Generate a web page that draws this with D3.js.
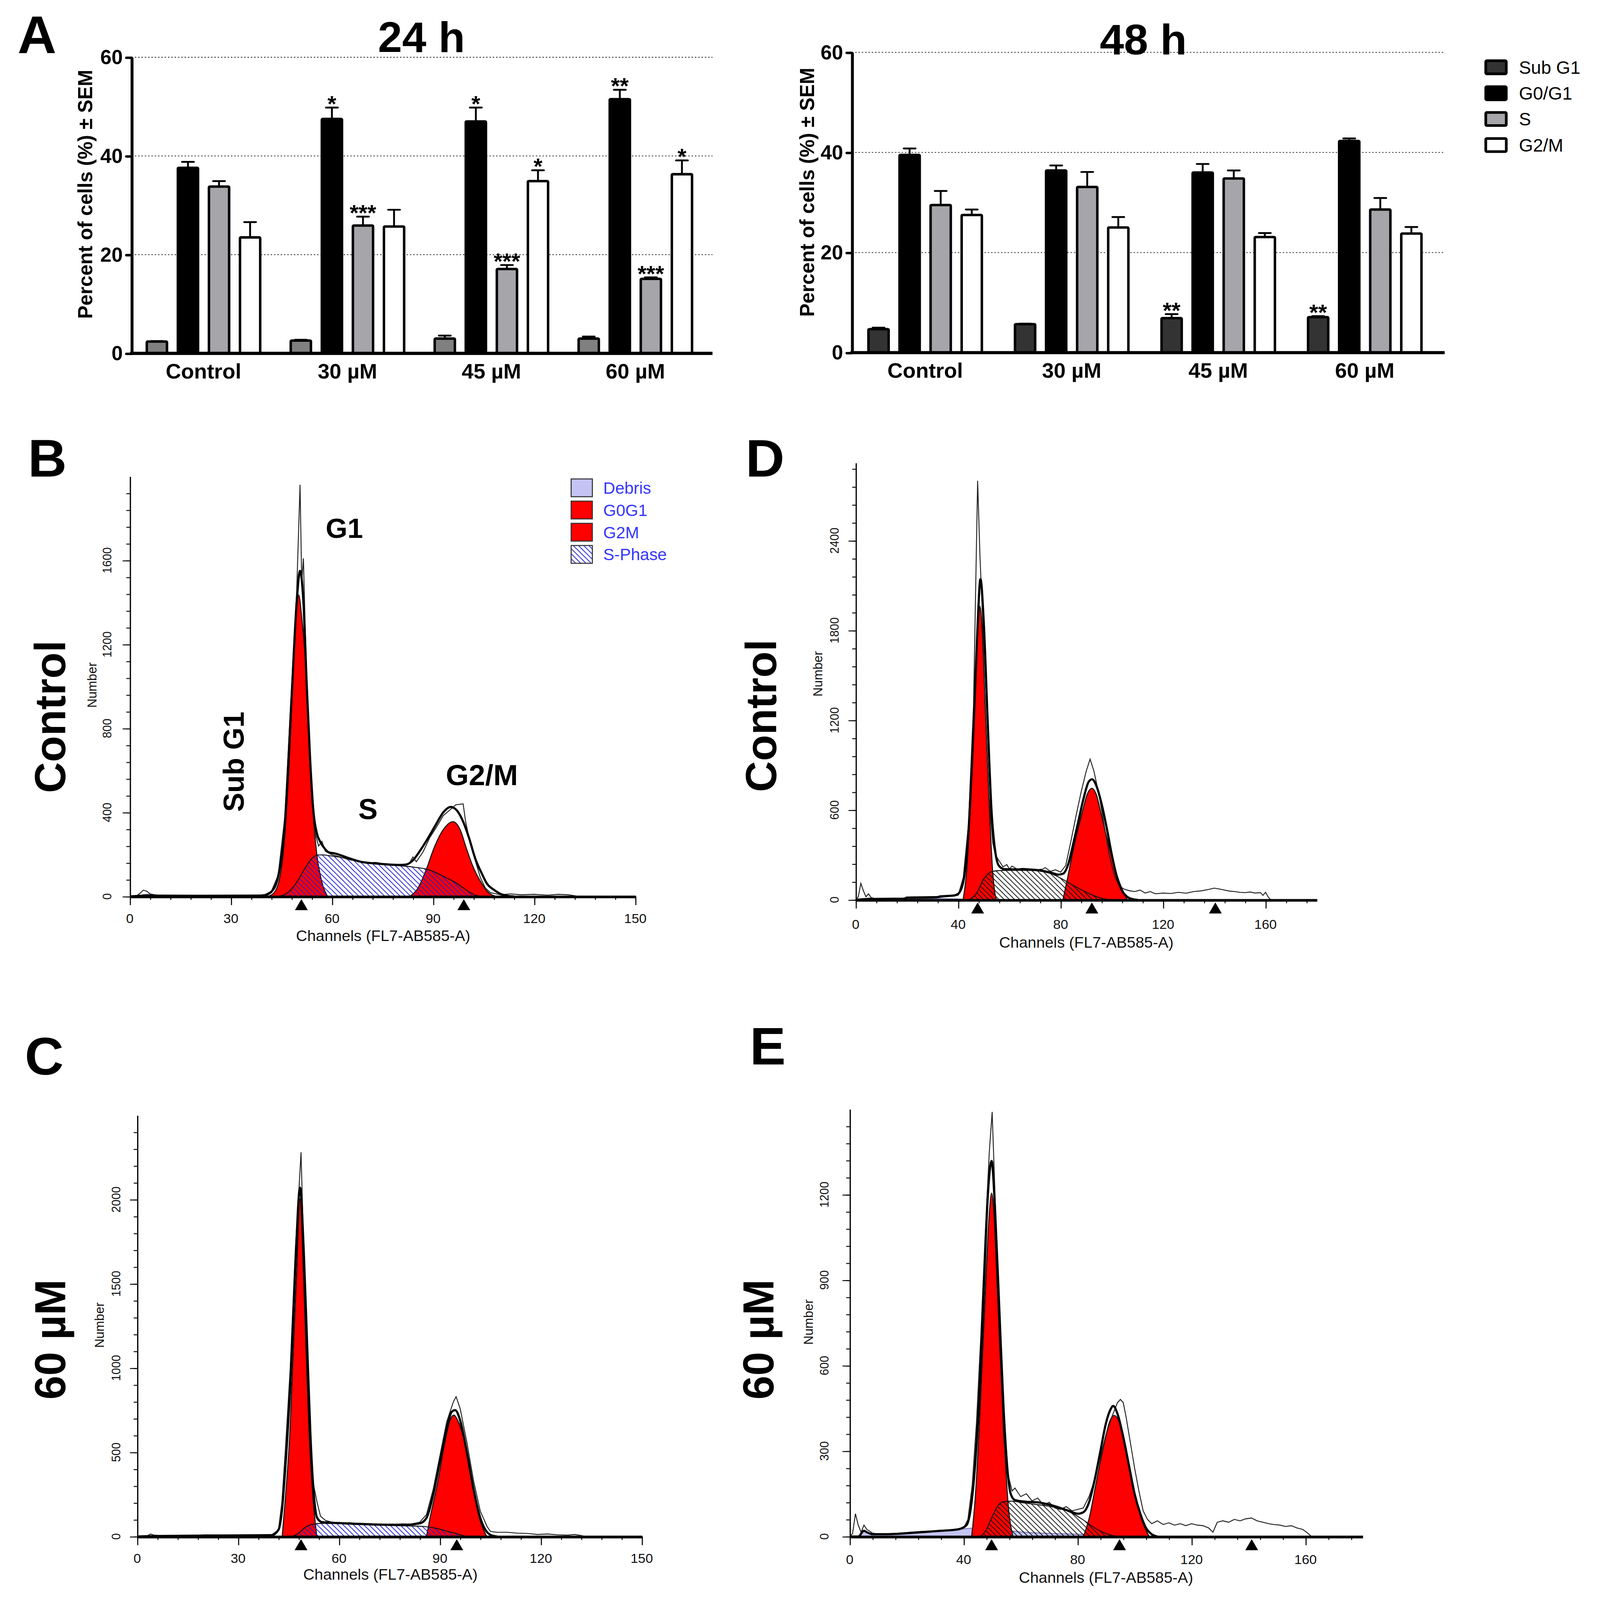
<!DOCTYPE html>
<html><head><meta charset="utf-8">
<script src="https://cdn.jsdelivr.net/npm/d3@7"></script>
<style>
html,body{margin:0;padding:0;width:100%;height:100%;overflow:hidden;background:#fff}
svg{display:block;position:absolute;left:0;top:0;width:100vw;height:100vh}
text{font-family:"Liberation Sans",Arial,Helvetica,sans-serif}
</style>
</head><body>
<svg id="fig" viewBox="0 0 1545 1564.8" preserveAspectRatio="none"></svg>
<script>
// ---------- Panel A data ----------
const groups = ["Control", "30 µM", "45 µM", "60 µM"];
const phases = ["Sub G1", "G0/G1", "S", "G2/M"];

const sub24 = [2.4, 2.6, 3.0, 3.0];
const sub24Err = [0.1, 0.15, 0.6, 0.4];
const g1_24 = [37.6, 47.5, 47.0, 51.5];
const g1_24Err = [1.2, 2.3, 2.8, 1.9];
const s24 = [33.8, 25.9, 17.1, 15.1];
const s24Err = [1.1, 1.8, 0.8, 0.3];
const g2_24 = [23.5, 25.7, 34.9, 36.3];
const g2_24Err = [3.1, 3.4, 2.2, 2.8];
const sub24Stars = ["", "", "", ""];
const g1_24Stars = ["", "*", "*", "**"];
const s24Stars = ["", "***", "***", "***"];
const g2_24Stars = ["", "", "*", "*"];

const sub48 = [4.7, 5.7, 6.9, 7.1];
const sub48Err = [0.3, 0.1, 0.8, 0.2];
const g1_48 = [39.5, 36.4, 36.0, 42.3];
const g1_48Err = [1.3, 1.0, 1.7, 0.5];
const s48 = [29.5, 33.1, 34.8, 28.6];
const s48Err = [2.8, 3.0, 1.6, 2.3];
const g2_48 = [27.5, 25.0, 23.1, 23.8];
const g2_48Err = [1.1, 2.1, 0.8, 1.3];
const sub48Stars = ["", "", "**", "**"];
const g1_48Stars = ["", "", "", ""];
const s48Stars = ["", "", "", ""];
const g2_48Stars = ["", "", "", ""];

const barYTicks = [0, 20, 40, 60];

// ---------- Histogram data: [channel, count] ----------
// B: Control 24 h
const bRaw = [[0,0],[2,2],[3,15],[4,30],[5,25],[6,12],[8,5],[10,4],[15,3],[20,3],[25,4],[30,3],[35,5],[38,4],[40,8],[42,25],[44,100],[46,380],[48,1000],[49.5,1450],[50.5,1960],[51,1500],[51.5,1610],[52,1300],[53,800],[54,450],[55,300],[56,240],[57,262],[58,215],[60,198],[62,190],[65,175],[68,168],[70,160],[73,162],[76,154],[79,150],[81,146],[83,160],[84,188],[85,165],[87,212],[89,280],[91,330],[93,385],[95,412],[96.7,436],[98.9,441],[99.6,360],[101,250],[102.6,165],[104,90],[105.5,40],[107,18],[110,8],[113,12],[116,8],[120,10],[124,6],[127,10],[130,8],[132,3],[133,0]];
const bFit = [[0,0],[5,4],[20,3],[38,4],[40,6],[42,22],[44,95],[46,350],[48,950],[49.5,1400],[50.5,1550],[51.5,1400],[52.5,1000],[53.5,650],[54.5,400],[55.5,300],[56.5,260],[57.7,230],[59,210],[61,204],[65,182],[68.5,165],[72,158],[76,153],[80,150],[82,152],[84,172],[86,215],[88,265],[90.7,339],[93,400],[95.2,426],[97,410],[98.8,360],[100.6,281],[102.5,180],[104.5,107],[106,60],[108,32],[110,12],[112,3],[114,0]];
const bG1 = [[41,0],[42.9,20],[45.1,150],[47.3,640],[48.6,1120],[49.4,1350],[50.1,1435],[51,1330],[52.1,1120],[53.6,640],[54.6,350],[55.5,197],[56.8,80],[58.7,0]];
const bG2 = [[83,0],[85.5,40],[88,130],[90.3,232],[93,318],[95.9,356],[98,318],[99.8,232],[101.6,151],[104.1,70],[106,25],[108.7,0]];
const bS = [[44,0],[46,10],[48,35],[50,80],[52,135],[54,180],[55.5,197],[57,198],[60,192],[64,182],[68,168],[72,158],[76,150],[80,146],[84,140],[88.5,128],[91,112],[94,88],[96,72],[99,40],[101,18],[103,4],[105,0]];
const bDebris = [[3,0],[4,9],[6,11],[9,5],[14,2],[25,1],[40,0]];
const bXTicks = [0, 30, 60, 90, 120, 150];
const bYTicks = [0, 400, 800, 1200, 1600];
const bMarkers = [50.9, 99.1];

// C: 60 µM 24 h
const cRaw = [[0,0],[3,5],[4,15],[5,8],[8,3],[15,2],[20,10],[30,8],[40,10],[42,40],[43,200],[44,500],[45.5,1000],[47,1700],[48.2,2100],[48.7,2280],[49.5,1700],[50.5,1100],[51.5,550],[52.5,300],[53.5,200],[54.5,120],[56,95],[58,85],[60,80],[63,82],[66,78],[70,75],[73,72],[76,70],[79,75],[81,72],[84,85],[86,130],[88,280],[90,480],[92,680],[94,800],[94.8,830],[96,760],[98,560],[100,330],[102,150],[104,60],[105,30],[107,25],[110,25],[113,20],[116,18],[119,12],[122,15],[125,10],[128,8],[130,12],[132,6],[133,0]];
const cFit = [[0,0],[5,3],[20,5],[40,8],[42,40],[43,150],[44,400],[45.5,900],[47,1600],[48.4,2070],[49.5,1700],[50.5,1150],[51.5,600],[52.5,250],[53.5,110],[55,85],[60,80],[65,75],[70,72],[75,70],[80,70],[84,78],[86,110],[88,250],[90,450],[92,640],[93.5,740],[94.5,750],[96,690],[98,500],[100,280],[102,110],[103.5,40],[105,10],[107,0]];
const cG1 = [[43.1,0],[44,217],[45.5,664],[46.4,1111],[47.4,1558],[48.4,2005],[49.4,1558],[50.2,1111],[51,664],[52.3,217],[53.4,0]];
const cG2 = [[86,0],[87,105],[89.4,329],[91.4,552],[93,690],[94.1,720],[95.5,680],[97.4,552],[99.4,329],[101.8,105],[103.9,0]];
const cS = [[46,0],[48,20],[50,55],[52,72],[55,78],[60,76],[65,72],[70,68],[75,65],[80,63],[85,60],[88,52],[91,38],[94,22],[97,5],[98,0]];
const cXTicks = [0, 30, 60, 90, 120, 150];
const cYTicks = [0, 500, 1000, 1500, 2000];
const cMarkers = [48.7, 95];

// D: Control 48 h
const dRaw = [[0,0],[1,20],[2,110],[3,60],[4,20],[5,40],[6,15],[8,5],[12,3],[20,8],[30,10],[40,30],[42,150],[44,500],[46,1300],[47.6,2800],[48.5,2300],[49.5,1900],[50.5,1300],[52,700],[53.5,380],[54.5,300],[56,260],[57.5,220],[59,235],[60,205],[61,225],[63,205],[65,210],[67,208],[70,200],[73,205],[74,215],[76,190],[78,200],[80,185],[82,230],[84,390],[86,560],[88,720],[90,860],[91.5,940],[93,860],[95,700],[97,500],[99,300],[101,160],[103,90],[105,70],[107,60],[109,55],[111,65],[113,45],[115,55],[117,40],[120,45],[123,42],[126,50],[129,44],[132,55],[135,60],[138,70],[140,78],[142,72],[144,65],[146,58],[148,55],[150,50],[152,48],[154,52],[156,45],[158,48],[159,30],[160,50],[161,20],[162,0]];
const dFit = [[0,0],[5,5],[19,8],[20,15],[32,18],[33,23],[38,28],[40,40],[42,120],[44,450],[46,1150],[47.5,1800],[48.7,2143],[50,1850],[51.5,1200],[53,600],[54.5,320],[56,225],[58,205],[62,203],[66,203],[70,200],[74,190],[77,178],[79,168],[81,175],[83,240],[85,380],[87,530],[89,680],[91,790],[92.3,805],[94,760],[96,640],[98,480],[100,300],[102,150],[104,60],[106,20],[108,5],[110,0]];
const dG1 = [[41.9,0],[43.5,234],[44.9,690],[46.5,1370],[47.8,1825],[48.5,1961],[49.3,1825],[50.4,1370],[52,690],[53.3,234],[54.5,30],[55,0]];
const dG2 = [[80.9,0],[82.4,120],[85.1,348],[88.3,575],[90.5,710],[92.1,745],[94,700],[95.8,575],[99,348],[102.9,120],[106,0]];
const dS = [[44,0],[47,40],[50,140],[53,188],[56,195],[60,197],[65,197],[70,195],[74,185],[77,170],[80,145],[84,105],[88,68],[92,35],[96,10],[99,0]];
const dDebris = [[4,0],[5,12],[8,6],[15,3],[20,6],[30,8],[40,6],[48,0]];
const dXTicks = [0, 40, 80, 120, 160];
const dYTicks = [0, 600, 1200, 1800, 2400];
const dMarkers = [47.6, 92.2, 140.4];

// E: 60 µM 48 h
const eRaw = [[0,0],[1,10],[2,80],[3,40],[4,15],[5,40],[6,25],[8,12],[10,8],[15,10],[20,14],[25,18],[30,20],[35,23],[40,30],[41.5,60],[43,180],[44.5,400],[46,700],[47.5,1050],[49,1350],[50,1490],[51,1200],[52,900],[53,600],[54,350],[55,240],[56,200],[57,160],[58,170],[60,140],[62,150],[64,125],[66,135],[68,110],[70,120],[72,100],[74,95],[76,105],[78,90],[80,95],[82,100],[84,140],[86,200],[88,280],[90,360],[92,420],[94,470],[95,481],[96,470],[97,420],[98,360],[100,240],[101.5,160],[103,90],[104.5,60],[106,45],[108,55],[110,42],[112,48],[114,40],[116,45],[118,38],[120,45],[122,40],[124,38],[126,30],[127.5,15],[129,50],[131,55],[133,50],[135,60],[137,55],[139,62],[141,65],[143,55],[145,50],[147,45],[149,42],[151,40],[153,35],[155,38],[157,30],[159,25],[161,10],[162,0]];
const eFit = [[0,0],[3,0],[5,20],[6,15],[8,8],[12,8],[18,10],[25,15],[32,20],[38,25],[41,40],[42.5,100],[44,250],[45.5,500],[47,850],[48.5,1200],[49.8,1318],[51,1150],[52.5,800],[54,450],[55.5,220],[56.5,150],[58,128],[62,122],[66,120],[70,112],[74,100],[77,90],[80,80],[82,85],[84,120],[86,200],[88,300],[90,400],[91.5,445],[92.5,458],[94,430],[96,350],[98,250],[100,150],[102,80],[104,30],[106,8],[108,0]];
const eG1 = [[42.8,0],[44,128],[45.5,392],[46.7,657],[47.9,921],[48.9,1119],[49.8,1205],[50.7,1119],[51.6,921],[52.7,657],[54,392],[55.5,128],[57.3,0]];
const eG2 = [[82,0],[84,62],[86.6,194],[89.3,326],[91.3,405],[92.8,425],[94.5,405],[96.5,326],[99.1,194],[102.4,62],[105.1,0]];
const eS = [[46,0],[48,25],[50,70],[52,108],[54,122],[57,124],[61,118],[65,113],[70,106],[74,97],[78,82],[82,58],[86,30],[90,10],[94,0]];
const eDebris = [[3,0],[4,10],[5,22],[6,16],[8,10],[10,8],[15,9],[20,12],[25,15],[30,18],[35,22],[40,27],[45,30],[50,28],[55,22],[60,16],[70,11],[80,8],[90,4],[100,0]];
const eXTicks = [0, 40, 80, 120, 160];
const eYTicks = [0, 300, 600, 900, 1200];
const eMarkers = [49.8, 94.7, 141.1];

const legendB = ["Debris", "G0G1", "G2M", "S-Phase"];

// ---------- drawing ----------
const svg = d3.select("#fig");
svg.append("rect").attr("width", 1545).attr("height", 1564.8).attr("fill", "#fff");

const defs = svg.append("defs");
function hatch(id, color) {
  const p = defs.append("pattern").attr("id", id).attr("patternUnits", "userSpaceOnUse")
    .attr("width", 5).attr("height", 5);
  p.append("path").attr("d", "M0,0L5,5M-2.5,2.5L2.5,7.5M2.5,-2.5L7.5,2.5")
    .attr("stroke", color).attr("stroke-width", 0.75).attr("fill", "none");
}
hatch("hatchBlue", "#1f1fd0");
hatch("hatchBlack", "#111");

function txt(x, y, s, size, opts = {}) {
  const t = svg.append("text").attr("x", x).attr("y", y).attr("font-size", size).text(s);
  if (opts.bold) t.attr("font-weight", "bold");
  if (opts.anchor) t.attr("text-anchor", opts.anchor);
  if (opts.fill) t.attr("fill", opts.fill);
  if (opts.rot) t.attr("transform", `rotate(-90,${x},${y})`);
  return t;
}

txt(17, 52, "A", 52, {bold: true});
txt(27, 466, "B", 52, {bold: true});
txt(24, 1051, "C", 52, {bold: true});
txt(720, 466, "D", 52, {bold: true});
txt(724, 1041, "E", 52, {bold: true});

function barPanel(o) {
  const g = svg.append("g");
  const x = d3.scaleBand().domain(groups).range([o.x0, o.x1]);
  const xs = d3.scaleBand().domain(phases).range([-55, 55]).paddingInner(1 / 3);
  const y = d3.scaleLinear().domain([0, 60]).range([o.yBase, o.yTop]);

  g.selectAll(".grid").data([20, 40, 60]).join("line")
    .attr("x1", o.x0).attr("x2", o.xEnd).attr("y1", d => y(d)).attr("y2", d => y(d))
    .attr("stroke", "#333").attr("stroke-width", 0.8).attr("stroke-dasharray", "1.4,1.8");

  const series = [
    {name: "Sub G1", v: o.sub, e: o.subE, st: o.subS, fill: o.subFill},
    {name: "G0/G1", v: o.g1, e: o.g1E, st: o.g1S, fill: "#000"},
    {name: "S", v: o.s, e: o.sE, st: o.sS, fill: "#a5a5aa"},
    {name: "G2/M", v: o.g2, e: o.g2E, st: o.g2S, fill: "#fff"}
  ];
  series.forEach(sr => {
    const data = groups.map((gr, i) => ({gr, v: sr.v[i], e: sr.e[i], st: sr.st[i]}));
    const cx = d => x(d.gr) + x.bandwidth() / 2 + xs(sr.name) + xs.bandwidth() / 2;
    g.selectAll(null).data(data).join("line")
      .attr("x1", cx).attr("x2", cx).attr("y1", d => y(d.v)).attr("y2", d => y(d.v + d.e))
      .attr("stroke", "#000").attr("stroke-width", 1.8);
    g.selectAll(null).data(data).join("line")
      .attr("x1", d => cx(d) - 5.7).attr("x2", d => cx(d) + 5.7)
      .attr("y1", d => y(d.v + d.e)).attr("y2", d => y(d.v + d.e))
      .attr("stroke", "#000").attr("stroke-width", 1.8).attr("stroke-linecap", "round");
    g.selectAll(null).data(data).join("rect")
      .attr("x", d => cx(d) - 9.75).attr("width", 19.5)
      .attr("y", d => y(d.v)).attr("height", d => y(0) - y(d.v)).attr("rx", 0.8)
      .attr("fill", sr.fill).attr("stroke", "#000").attr("stroke-width", 2.4);
    g.selectAll(null).data(data.filter(d => d.st)).join("text")
      .attr("x", cx).attr("y", d => y(d.v + d.e) + 4)
      .attr("text-anchor", "middle").attr("font-size", 22).attr("font-weight", "bold")
      .text(d => d.st);
  });

  const ya = g.append("g").attr("transform", `translate(${o.x0},0)`)
    .call(d3.axisLeft(y).tickValues(barYTicks).tickSize(5).tickSizeOuter(0).tickPadding(3.5));
  ya.select(".domain").attr("stroke-width", 2.8);
  ya.selectAll(".tick line").attr("stroke-width", 2.4).attr("stroke-linecap", "round");
  ya.selectAll("text").attr("font-size", 19.5).attr("font-weight", "bold")
    .attr("font-family", '"Liberation Sans",Arial,sans-serif');

  const xa = g.append("g").attr("transform", `translate(0,${y(0)})`)
    .call(d3.axisBottom(x).tickSize(0).tickPadding(10));
  xa.select(".domain").remove();
  xa.selectAll("text").attr("font-size", 20.5).attr("font-weight", "bold")
    .attr("font-family", '"Liberation Sans",Arial,sans-serif');
  g.append("line").attr("x1", o.x0 - 1.4).attr("x2", o.xEnd).attr("y1", y(0)).attr("y2", y(0))
    .attr("stroke", "#000").attr("stroke-width", 3.1);

  txt(o.titleX, o.titleY, o.title, 42, {bold: true, anchor: "middle"});
  txt(o.ylabX, o.ylabY, "Percent of cells (%) ± SEM", 19.5, {bold: true, anchor: "middle", rot: true});
}

barPanel({x0: 127, x1: 683, xEnd: 688, yBase: 345.6, yTop: 56.0, title: "24 h", titleX: 407, titleY: 51,
  ylabX: 89, ylabY: 190,
  sub: sub24, subE: sub24Err, subS: sub24Stars, subFill: "#808080",
  g1: g1_24, g1E: g1_24Err, g1S: g1_24Stars,
  s: s24, sE: s24Err, sS: s24Stars, g2: g2_24, g2E: g2_24Err, g2S: g2_24Stars});
barPanel({x0: 822.6, x1: 1388.6, xEnd: 1395, yBase: 344.9, yTop: 51.2, title: "48 h", titleX: 1104, titleY: 53,
  ylabX: 786, ylabY: 188,
  sub: sub48, subE: sub48Err, subS: sub48Stars, subFill: "#333",
  g1: g1_48, g1E: g1_48Err, g1S: g1_48Stars,
  s: s48, sE: s48Err, sS: s48Stars, g2: g2_48, g2E: g2_48Err, g2S: g2_48Stars});

const legFill = ["#333", "#000", "#a5a5aa", "#fff"];
const legTop = [59.4, 84.8, 110.0, 135.5];
phases.forEach((p, i) => {
  svg.append("rect").attr("x", 1434.7).attr("y", legTop[i]).attr("width", 19.8).attr("height", 12.8).attr("rx", 1)
    .attr("fill", legFill[i]).attr("stroke", "#000").attr("stroke-width", 2.6);
  txt(1466.7, legTop[i] + 12.7, p, 17.5);
});

// ---------- histograms ----------
function hist(o) {
  const g = svg.append("g");
  const x = d3.scaleLinear().domain([0, o.xMax]).range([o.xl, o.xr]);
  const y = d3.scaleLinear().domain([0, o.yMax]).range([o.yb, o.yt]);
  const area = d3.area().x(d => x(d[0])).y0(y(0)).y1(d => y(d[1])).curve(d3.curveMonotoneX);
  const line = d3.line().x(d => x(d[0])).y(d => y(d[1]));
  const sline = d3.line().x(d => x(d[0])).y(d => y(d[1])).curve(d3.curveMonotoneX);

  if (o.debris) g.append("path").attr("d", area(o.debris)).attr("fill", "#c4c4f4")
    .attr("stroke", "#7070b0").attr("stroke-width", 0.8);
  g.append("path").attr("d", area(o.g1)).attr("fill", "#ff0000").attr("stroke", "#111").attr("stroke-width", 1);
  g.append("path").attr("d", area(o.g2)).attr("fill", "#ff0000").attr("stroke", "#111").attr("stroke-width", 1);
  g.append("path").attr("d", area(o.s)).attr("fill", `url(#${o.hatch})`).attr("stroke", "#111").attr("stroke-width", 0.9);
  g.append("path").attr("d", line(o.raw)).attr("fill", "none").attr("stroke", "#222").attr("stroke-width", 0.9);
  g.append("path").attr("d", sline(o.fit)).attr("fill", "none").attr("stroke", "#000").attr("stroke-width", 2.1);

  const ya = g.append("g").attr("transform", `translate(${o.xl},0)`)
    .call(d3.axisLeft(y).tickValues(d3.range(0, o.yMax, o.yMinor)).tickSize(3.4).tickSizeOuter(0).tickFormat(""));
  ya.select(".domain").attr("stroke-width", 1.2);
  ya.selectAll(".tick line").attr("stroke-width", 0.9);
  const ya2 = g.append("g").attr("transform", `translate(${o.xl},0)`)
    .call(d3.axisLeft(y).tickValues(o.yTicks).tickSize(7).tickSizeOuter(0).tickFormat(""));
  ya2.select(".domain").remove();
  ya2.selectAll(".tick line").attr("stroke-width", 0.9);
  g.selectAll(null).data(o.yTicks).join("text")
    .attr("transform", d => `translate(${o.xl + o.yLabOff},${y(d)}) rotate(-90)`)
    .attr("text-anchor", "middle").attr("dy", "0.35em").attr("font-size", 11.5).attr("fill", "#111")
    .text(d => d);
  txt(o.numX, o.numY, "Number", 12.5, {anchor: "middle", rot: true, fill: "#111"});

  const xa1 = g.append("g").attr("transform", `translate(0,${o.yb})`)
    .call(d3.axisBottom(x).tickValues(d3.range(0, o.xMax + 0.01, o.xMinor)).tickSize(3.4).tickSizeOuter(0).tickFormat(""));
  xa1.select(".domain").attr("stroke-width", 2.6);
  xa1.selectAll(".tick line").attr("stroke-width", 0.9);
  const xa2 = g.append("g").attr("transform", `translate(0,${o.yb})`)
    .call(d3.axisBottom(x).tickValues(o.xTicks).tickSize(8.5).tickSizeOuter(0).tickFormat(""));
  xa2.select(".domain").remove();
  xa2.selectAll(".tick line").attr("stroke-width", 1);
  g.selectAll(null).data(o.xTicks).join("text")
    .attr("x", d => x(d)).attr("y", o.yb + o.xLabOff).attr("text-anchor", "middle")
    .attr("font-size", 13).attr("fill", "#111").text(d => d);
  txt(o.chX, o.chY, "Channels (FL7-AB585-A)", 15, {anchor: "middle", fill: "#111"});

  g.selectAll(null).data(o.markers).join("path")
    .attr("d", d => `M${x(d) - 6.2},${o.yb + 13.4}L${x(d)},${o.yb + 2.6}L${x(d) + 6.2},${o.yb + 13.4}Z`)
    .attr("fill", "#000");
}

hist({xl: 125.4, xr: 613.5, xMax: 150, yb: 876.7, yt: 465.9, yMax: 2000, yMinor: 80, xMinor: 6,
  xTicks: bXTicks, yTicks: bYTicks, markers: bMarkers, hatch: "hatchBlue",
  raw: bRaw, fit: bFit, g1: bG1, g2: bG2, s: bS, debris: bDebris,
  yLabOff: -22, numX: 93, numY: 670, xLabOff: 26, chX: 370, chY: 920.5});
hist({xl: 826.3, xr: 1271.5, xMax: 180, yb: 880.0, yt: 452.6, yMax: 2920, yMinor: 120, xMinor: 8,
  xTicks: dXTicks, yTicks: dYTicks, markers: dMarkers, hatch: "hatchBlack",
  raw: dRaw, fit: dFit, g1: dG1, g2: dG2, s: dS, debris: dDebris,
  yLabOff: -20.3, numX: 794, numY: 659, xLabOff: 28.5, chX: 1049, chY: 927});
hist({xl: 132.5, xr: 619.7, xMax: 150, yb: 1502.7, yt: 1090.7, yMax: 2500, yMinor: 100, xMinor: 6,
  xTicks: cXTicks, yTicks: cYTicks, markers: cMarkers, hatch: "hatchBlue",
  raw: cRaw, fit: cFit, g1: cG1, g2: cG2, s: cS, debris: null,
  yLabOff: -20.5, numX: 100.5, numY: 1296, xLabOff: 26, chX: 377, chY: 1545});
hist({xl: 820.5, xr: 1315.7, xMax: 180, yb: 1502.7, yt: 1084.7, yMax: 1500, yMinor: 60, xMinor: 8,
  xTicks: eXTicks, yTicks: eYTicks, markers: eMarkers, hatch: "hatchBlack",
  raw: eRaw, fit: eFit, g1: eG1, g2: eG2, s: eS, debris: eDebris,
  yLabOff: -24.5, numX: 785, numY: 1293, xLabOff: 27, chX: 1068, chY: 1548});

const legBTop = [468.4, 490.1, 511.8, 533.5];
const legBFill = ["#c4c4f4", "#ff0000", "#ff0000", "url(#hatchBlue)"];
legendB.forEach((l, i) => {
  if (i === 3) svg.append("rect").attr("x", 551.5).attr("y", legBTop[i]).attr("width", 20.5).attr("height", 17.4).attr("fill", "#fff");
  svg.append("rect").attr("x", 551.5).attr("y", legBTop[i]).attr("width", 20.5).attr("height", 17.4)
    .attr("fill", legBFill[i]).attr("stroke", "#333").attr("stroke-width", 1);
  txt(582.5, legBTop[i] + 14.5, l, 16, {fill: "#3636ff"});
});

txt(314.5, 526, "G1", 27, {bold: true});
txt(346, 801, "S", 28, {bold: true});
txt(430.5, 768, "G2/M", 28.5, {bold: true});
txt(235.5, 745, "Sub G1", 28, {bold: true, anchor: "middle", rot: true});

txt(63, 701, "Control", 42, {bold: true, anchor: "middle", rot: true});
txt(749.5, 700, "Control", 42, {bold: true, anchor: "middle", rot: true});
txt(63, 1310, "60 µM", 42, {bold: true, anchor: "middle", rot: true});
txt(747, 1310, "60 µM", 42, {bold: true, anchor: "middle", rot: true});
</script>
</body></html>
